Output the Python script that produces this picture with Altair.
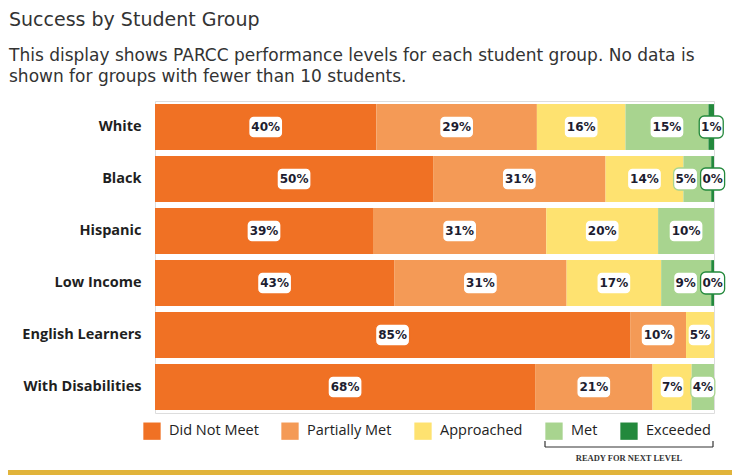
import altair as alt
import pandas as pd

groups = ["White", "Black", "Hispanic", "Low Income", "English Learners", "With Disabilities"]
levels = ["Did Not Meet", "Partially Met", "Approached", "Met", "Exceeded"]
did_not_meet = [40, 50, 39, 43, 85, 68]
partially_met = [29, 31, 31, 31, 10, 21]
approached = [16, 14, 20, 17, 5, 7]
met = [15, 5, 10, 9, None, 4]
exceeded = [1, 0, None, 0, None, None]
colors = ["#F07124", "#F49A56", "#FEE270", "#A8D48F", "#23893C"]

title_text = "Success by Student Group"
subtitle_lines = [
    "This display shows PARCC performance levels for each student group. No data is",
    "shown for groups with fewer than 10 students.",
]
bracket_text = "READY FOR NEXT LEVEL"

PLOT_W = 559
PLOT_H = 312
MIN_VISIBLE = 0.5  # a 0% segment is still drawn as a thin sliver
BOX_W = {"1": 24, "2": 34}

series = [did_not_meet, partially_met, approached, met, exceeded]
rows = []
for gi, g in enumerate(groups):
    vals = [(lv, s[gi]) for lv, s in zip(levels, series) if s[gi] is not None]
    disp = [max(v, MIN_VISIBLE) for _, v in vals]
    tot = sum(disp)
    start = 0.0
    segs = []
    for (lv, v), d in zip(vals, disp):
        end = start + d / tot
        segs.append(dict(group=g, level=lv, value=v, x0=start, x1=end,
                         lx=(start + end) / 2, label=f"{v}%",
                         w="1" if v < 10 else "2"))
        start = end
    # nudge labels left so that neighbouring label boxes do not overlap
    for i in range(len(segs) - 2, -1, -1):
        gap = ((BOX_W[segs[i]["w"]] + BOX_W[segs[i + 1]["w"]]) / 2 + 3) / PLOT_W
        if segs[i]["lx"] > segs[i + 1]["lx"] - gap:
            segs[i]["lx"] = segs[i + 1]["lx"] - gap
    for s in segs:
        half = BOX_W[s["w"]] / 2 / PLOT_W
        s["bx0"] = s["lx"] - half
        s["bx1"] = s["lx"] + half
    rows.extend(segs)
df = pd.DataFrame(rows)

yenc = alt.Y("group:N", sort=groups,
             scale=alt.Scale(paddingInner=0.12, paddingOuter=0.06),
             axis=alt.Axis(title=None, domain=False, ticks=False,
                           labelFontWeight="bold", labelFontSize=14.5,
                           labelColor="#1f1f1f", labelPadding=14,
                           labelFont="Open Sans"))
xscale = alt.Scale(domain=[0, 1], nice=False, zero=True)

base = alt.Chart(df)

bars = base.mark_bar().encode(
    x=alt.X("x0:Q", scale=xscale, axis=None),
    x2="x1:Q",
    y=yenc,
    color=alt.Color("level:N", sort=levels,
                    scale=alt.Scale(domain=levels, range=colors),
                    legend=alt.Legend(title=None, orient="none", direction="horizontal",
                                      legendX=-12, legendY=321,
                                      symbolType="square", symbolSize=300,
                                      symbolStrokeWidth=0, symbolOpacity=1,
                                      labelFont="Open Sans", labelFontSize=14.5,
                                      labelColor="#222", labelOffset=8,
                                      columnPadding=22)),
)

boxes = base.mark_bar(size=22, cornerRadius=5, fill="white", strokeWidth=1.3,
                      opacity=1).encode(
    x=alt.X("bx0:Q", scale=xscale, axis=None),
    x2="bx1:Q",
    y=yenc,
    stroke=alt.Stroke("level:N", scale=alt.Scale(domain=levels, range=colors), legend=None),
)

texts = base.mark_text(fontWeight="bold", fontSize=12, color="#1d1d30",
                       font="DejaVu Sans").encode(
    x=alt.X("lx:Q", scale=xscale, axis=None),
    y=yenc,
    text="label:N",
)

one = pd.DataFrame({"k": [0]})
bracket_h = alt.Chart(one).mark_rule(color="#333", strokeWidth=1.2).encode(
    x=alt.value(390), x2=alt.value(558), y=alt.value(346))
bracket_l = alt.Chart(one).mark_rule(color="#333", strokeWidth=1.2).encode(
    x=alt.value(390), y=alt.value(340), y2=alt.value(346))
bracket_r = alt.Chart(one).mark_rule(color="#333", strokeWidth=1.2).encode(
    x=alt.value(558), y=alt.value(340), y2=alt.value(346))
bracket_t = alt.Chart(one).mark_text(font="Liberation Sans Narrow", fontSize=8.5,
                                     fontWeight="bold", color="#333",
                                     baseline="middle").encode(
    x=alt.value(474), y=alt.value(357), text=alt.value(bracket_text))
gold = alt.Chart(one).mark_rule(color="#E1B43B", strokeWidth=5).encode(
    x=alt.value(-147), x2=alt.value(577), y=alt.value(371.5))

chart = alt.layer(bars, boxes, texts, bracket_h, bracket_l, bracket_r, bracket_t, gold).properties(
    width=PLOT_W, height=PLOT_H,
    autosize="none",
    padding={"left": 147, "top": 93, "right": 18, "bottom": 63},
    title=alt.Title(title_text, subtitle=subtitle_lines, anchor="start", frame="group",
                    dx=-146, offset=16, font="DejaVu Sans", fontSize=19,
                    fontWeight="normal", color="#333",
                    subtitleFont="DejaVu Sans", subtitleFontSize=17,
                    subtitleColor="#333", subtitleLineHeight=21, subtitlePadding=18),
).configure_view(strokeWidth=0).configure(background="white")

chart.save("out.html", embed_options={"renderer": "svg", "actions": False})
